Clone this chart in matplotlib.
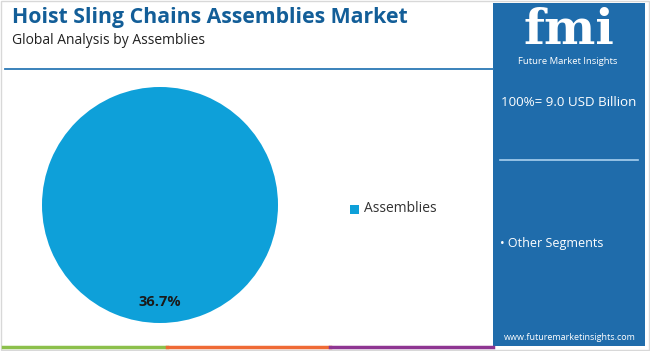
import matplotlib
matplotlib.use('Agg')
import matplotlib.pyplot as plt
from matplotlib.patches import Rectangle

# data
segments = ['Assemblies']
shares = [36.7]
total_label = '100%= 9.0 USD Billion'
other_label = 'Other Segments'

title = 'Hoist Sling Chains Assemblies Market'
subtitle = 'Global Analysis by Assemblies'

pie_color = '#0ea0d9'
panel_color = '#1f6cab'
title_color = '#135e98'

plt.rcParams['font.family'] = ['Open Sans', 'DejaVu Sans']

fig = plt.figure(figsize=(6.5, 3.51), dpi=100)
W, H = 650, 351

def fx(px):
    return px / W

def fy(py):
    return 1 - py / H

# light border around figure
fig.patches.append(Rectangle((0.002, 0.003), 0.996, 0.994, transform=fig.transFigure,
                             fill=False, edgecolor='#d8d8d8', linewidth=1))

# title block
fig.text(fx(12), fy(18), title, fontsize=15.3, fontweight='bold', color=title_color,
         va='center', ha='left')
fig.text(fx(12), fy(40), subtitle, fontsize=10, color='#222222', va='center', ha='left')

# divider line under the title
fig.add_artist(plt.Line2D([fx(5), fx(493)], [fy(69), fy(69)], color='#2b78b5', linewidth=1.3))

# bottom colour bar
for x0, x1, c in [(3, 167, '#8cc04b'), (167, 330, '#ef6a35'), (330, 493, '#8e3592')]:
    fig.add_artist(plt.Line2D([fx(x0), fx(x1)], [fy(347), fy(347)], color=c, linewidth=2.5))

# right panel
fig.patches.append(Rectangle((fx(493), fy(346)), fx(152), (343) / H, transform=fig.transFigure,
                             facecolor=panel_color, edgecolor='none'))
fig.text(fx(569), fy(31), 'fmi', fontsize=35, fontweight='bold', color='white',
         family='DejaVu Serif', ha='center', va='center')
fig.text(fx(568), fy(62), 'Future Market Insights', fontsize=6.8, color='white',
         ha='center', va='center')
fig.text(fx(569), fy(103), total_label, fontsize=9.6, color='white', ha='center', va='center')
fig.add_artist(plt.Line2D([fx(500), fx(638)], [fy(160), fy(160)], color='#a8d0ef', linewidth=1.2))
fig.text(fx(500), fy(244), '\u2022 ' + other_label, fontsize=9, color='white',
         ha='left', va='center')
fig.text(fx(570), fy(337), 'www.futuremarketinsights.com', fontsize=6.5, color='white',
         ha='center', va='center')

# pie
ax = fig.add_axes([fx(42), fy(323), fx(236), 236 / H])
ax.pie(shares, colors=[pie_color], startangle=90, pctdistance=0.82,
       autopct=lambda p: f'{shares[0]}%',
       textprops=dict(fontsize=10.5, fontweight='bold', color='#1a1a1a'))
ax.set_xlim(-1, 1)
ax.set_ylim(-1, 1)
ax.set_aspect('equal')

# legend
fig.patches.append(Rectangle((fx(350), fy(214)), fx(9), 9 / H, transform=fig.transFigure,
                             facecolor=pie_color, edgecolor='none'))
fig.text(fx(364), fy(209), segments[0], fontsize=10, color='#333333', ha='left', va='center')

fig.savefig('out.png', dpi=100)
